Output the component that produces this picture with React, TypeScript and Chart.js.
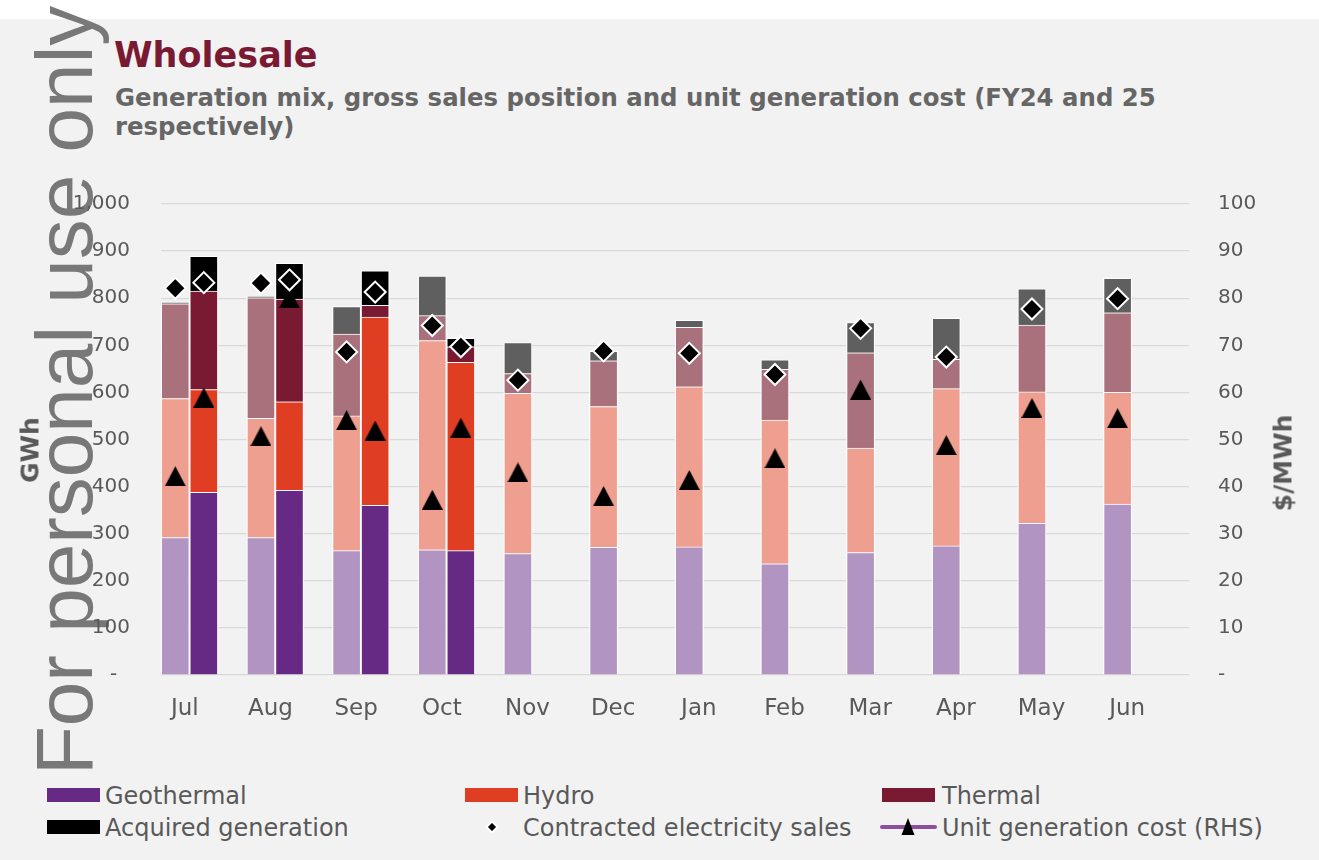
import React, { useEffect, useRef } from 'react';
import { Chart, registerables } from 'chart.js';

Chart.register(...registerables);

// ---------- data ----------
const months = ['Jul', 'Aug', 'Sep', 'Oct', 'Nov', 'Dec', 'Jan', 'Feb', 'Mar', 'Apr', 'May', 'Jun'];

// FY24 generation mix (GWh)
const geothermalFY24 = [292, 292, 264, 266, 258, 271, 272, 236, 260, 274, 322, 363];
const hydroFY24 = [295, 253, 286, 444, 340, 299, 340, 305, 222, 334, 279, 237];
const thermalFY24 = [201, 256, 174, 53, 42, 97, 126, 108, 202, 62, 142, 169];
const acquiredFY24 = [3, 3, 58, 84, 66, 20, 15, 20, 64, 87, 77, 73];

// FY25 generation mix (GWh)
const geothermalFY25 = [388, 392, 360, 264, null, null, null, null, null, null, null, null];
const hydroFY25 = [218, 188, 400, 400, null, null, null, null, null, null, null, null];
const thermalFY25 = [209, 218, 25, 33, null, null, null, null, null, null, null, null];
const acquiredFY25 = [74, 76, 73, 18, null, null, null, null, null, null, null, null];

// Contracted electricity sales (GWh)
const salesFY24 = [821, 832, 686, 742, 626, 688, 683, 638, 736, 675, 777, 799];
const salesFY25 = [833, 839, 813, 697, null, null, null, null, null, null, null, null];

// Unit generation cost ($/MWh, RHS)
const costFY24 = [42.2, 50.7, 54.1, 37.2, 43.0, 38.0, 41.4, 46.0, 60.6, 48.8, 56.7, 54.5];
const costFY25 = [58.9, 80.0, 51.9, 52.5, null, null, null, null, null, null, null, null];

const withCommas = (v: number) => String(Math.round(v)).replace(/\B(?=(\d{3})+(?!\d))/g, ',');
const leftTickFormat = (v: number) => (v === 0 ? '-  ' : withCommas(v));
const rightTickFormat = (v: number) => (v === 0 ? '-' : String(v));

// each month holds three slots: FY24, FY25 and an empty one
const STACK_SLOTS = 3;
const slotOffset = (slot: number) => -0.5 + (slot + 0.5) / STACK_SLOTS;
const FY24_SLOT = 0;
const FY25_SLOT = 1;

const points = (vals: (number | null)[], slot: number) =>
  vals
    .map((v, i) => (v == null ? null : { x: i + slotOffset(slot), y: v }))
    .filter((p) => p !== null) as { x: number; y: number }[];

const FONT = "'DejaVu Sans', sans-serif";
const TEXT = '#595959';

const colors = {
  geo25: '#662a84',
  geo24: '#b194c1',
  hydro25: '#e03e22',
  hydro24: '#ee9f90',
  thermal25: '#7a1a32',
  thermal24: '#a9717b',
  acq25: '#000000',
  acq24: '#5f5f5f',
};

export default function App() {
  const ref = useRef<HTMLCanvasElement>(null);

  useEffect(() => {
    const canvas = ref.current;
    if (!canvas) return;

    const tri = document.createElement('canvas');
    tri.width = 21;
    tri.height = 20;
    const tc = tri.getContext('2d')!;
    tc.fillStyle = '#000';
    tc.beginPath();
    tc.moveTo(10.5, 0);
    tc.lineTo(21, 20);
    tc.lineTo(0, 20);
    tc.closePath();
    tc.fill();

    const bar = (label: string, vals: (number | null)[], slot: number, color: string, stack: string) => ({
      type: 'bar' as const,
      label,
      data: points(vals, slot),
      xAxisID: 'xb',
      yAxisID: 'y',
      backgroundColor: color,
      borderColor: 'rgba(255,255,255,0.9)',
      borderWidth: { top: 1, left: 1.3, right: 1.3, bottom: 0 },
      borderSkipped: 'start' as const,
      stack,
      grouped: false,
      categoryPercentage: 1,
      barPercentage: 1,
      order: 2,
    });

    const diamond = (label: string, vals: (number | null)[], slot: number, stack: string) => ({
      type: 'line' as const,
      label,
      data: points(vals, slot),
      xAxisID: 'xb',
      yAxisID: 'y',
      stack,
      showLine: false,
      pointStyle: 'rectRot' as const,
      pointRadius: 10.5,
      pointBackgroundColor: '#000',
      pointBorderColor: '#fff',
      pointBorderWidth: 2,
      order: 0,
    });

    const triangle = (label: string, vals: (number | null)[], slot: number, stack: string) => ({
      type: 'line' as const,
      label,
      data: points(vals, slot),
      xAxisID: 'xb',
      yAxisID: 'y2',
      stack,
      showLine: false,
      borderColor: '#8e4f9b',
      pointStyle: tri,
      pointRadius: 10,
      order: 1,
    });

    const chart = new Chart(canvas, {
      type: 'bar',
      data: {
        labels: months,
        datasets: [
          diamond('Contracted electricity sales', salesFY24, FY24_SLOT, 's24'),
          diamond('Contracted electricity sales FY25', salesFY25, FY25_SLOT, 's25'),
          triangle('Unit generation cost (RHS)', costFY24, FY24_SLOT, 'c24'),
          triangle('Unit generation cost (RHS) FY25', costFY25, FY25_SLOT, 'c25'),
          bar('Geothermal FY24', geothermalFY24, FY24_SLOT, colors.geo24, 'FY24'),
          bar('Hydro FY24', hydroFY24, FY24_SLOT, colors.hydro24, 'FY24'),
          bar('Thermal FY24', thermalFY24, FY24_SLOT, colors.thermal24, 'FY24'),
          bar('Acquired generation FY24', acquiredFY24, FY24_SLOT, colors.acq24, 'FY24'),
          bar('Geothermal', geothermalFY25, FY25_SLOT, colors.geo25, 'FY25'),
          bar('Hydro', hydroFY25, FY25_SLOT, colors.hydro25, 'FY25'),
          bar('Thermal', thermalFY25, FY25_SLOT, colors.thermal25, 'FY25'),
          bar('Acquired generation', acquiredFY25, FY25_SLOT, colors.acq25, 'FY25'),
        ] as any,
      },
      options: {
        responsive: false,
        animation: false,
        events: [],
        layout: { padding: { top: 10, left: 0, right: 0, bottom: 0 } },
        plugins: {
          legend: { display: false },
          tooltip: { enabled: false },
          title: { display: false },
        },
        scales: {
          x: {
            type: 'category',
            offset: true,
            grid: { display: false, drawTicks: false },
            border: { display: false },
            ticks: {
              font: { family: FONT, size: 23 },
              color: TEXT,
              padding: 20,
              labelOffset: -19,
              autoSkip: false,
              maxRotation: 0,
            },
            afterFit: (s: any) => {
              s.height = 65;
            },
          },
          xb: {
            type: 'linear',
            display: false,
            stacked: true,
            min: -0.5,
            max: 11.5,
            offset: false,
            ticks: { stepSize: 1 },
          },
          y: {
            stacked: true,
            min: 0,
            max: 1000,
            grid: { color: '#d9d9d9', lineWidth: 1.3, drawTicks: false },
            border: { display: false },
            ticks: {
              stepSize: 100,
              font: { family: FONT, size: 20 },
              color: TEXT,
              padding: 31,
              callback: (v: any) => leftTickFormat(Number(v)),
            },
            afterFit: (s: any) => {
              s.width = 161;
            },
          },
          y2: {
            position: 'right',
            min: 0,
            max: 100,
            grid: { display: false, drawTicks: false },
            border: { display: false },
            ticks: {
              stepSize: 10,
              font: { family: FONT, size: 20 },
              color: TEXT,
              padding: 29,
              callback: (v: any) => rightTickFormat(Number(v)),
            },
            afterFit: (s: any) => {
              s.width = 130;
            },
          },
        } as any,
      },
    });

    return () => chart.destroy();
  }, []);

  const legendText = (left: number, capCenter: number, text: string) => (
    <div
      style={{
        position: 'absolute',
        left,
        top: capCenter - 11.5,
        fontFamily: FONT,
        fontSize: 24,
        lineHeight: '24px',
        color: TEXT,
        whiteSpace: 'nowrap',
      }}
    >
      {text}
    </div>
  );

  const swatch = (left: number, center: number, color: string) => (
    <div style={{ position: 'absolute', left, top: center - 7, width: 53, height: 14, background: color }} />
  );

  return (
    <div
      style={{
        position: 'absolute',
        left: 0,
        top: 0,
        width: 1319,
        height: 860,
        background: '#ffffff',
        overflow: 'hidden',
      }}
    >
      <div style={{ position: 'absolute', left: 0, top: 19, width: 1319, height: 841, background: '#f2f2f2' }} />

      {/* watermark */}
      <div
        style={{
          position: 'absolute',
          left: 25,
          top: 775,
          fontFamily: "'Liberation Sans', Arial, sans-serif",
          fontSize: 80,
          lineHeight: '80px',
          color: '#787878',
          whiteSpace: 'nowrap',
          transform: 'rotate(-90deg)',
          transformOrigin: '0 0',
        }}
      >
        For personal use only
      </div>

      {/* titles */}
      <div
        style={{
          position: 'absolute',
          left: 114,
          top: 37.5,
          fontFamily: FONT,
          fontWeight: 'bold',
          fontSize: 35,
          lineHeight: '35px',
          color: '#7a1a32',
          whiteSpace: 'nowrap',
        }}
      >
        Wholesale
      </div>
      <div
        style={{
          position: 'absolute',
          left: 115,
          top: 83,
          fontFamily: FONT,
          fontWeight: 'bold',
          fontSize: 24.4,
          lineHeight: '29px',
          color: '#666666',
          whiteSpace: 'nowrap',
        }}
      >
        Generation mix, gross sales position and unit generation cost (FY24 and 25
        <br />
        respectively)
      </div>

      <canvas
        ref={ref}
        width={1319}
        height={579}
        style={{ position: 'absolute', left: 0, top: 161, width: 1319, height: 579 }}
      />

      {/* axis titles */}
      <div
        style={{
          position: 'absolute',
          left: 30,
          top: 450,
          fontFamily: FONT,
          fontWeight: 'bold',
          fontSize: 25,
          lineHeight: '25px',
          color: TEXT,
          whiteSpace: 'nowrap',
          transform: 'translate(-50%, -50%) rotate(-90deg)',
        }}
      >
        GWh
      </div>
      <div
        style={{
          position: 'absolute',
          left: 1283,
          top: 463,
          fontFamily: FONT,
          fontWeight: 'bold',
          fontSize: 25,
          lineHeight: '25px',
          color: TEXT,
          whiteSpace: 'nowrap',
          transform: 'translate(-50%, -50%) rotate(-90deg)',
        }}
      >
        $/MWh
      </div>

      {/* legend */}
      {swatch(47, 795, colors.geo25)}
      {legendText(105, 795, 'Geothermal')}
      {swatch(465, 795, colors.hydro25)}
      {legendText(523, 795, 'Hydro')}
      {swatch(882, 795, colors.thermal25)}
      {legendText(942, 795, 'Thermal')}
      {swatch(47, 827, colors.acq25)}
      {legendText(105, 827, 'Acquired generation')}
      {legendText(523, 827, 'Contracted electricity sales')}
      {legendText(942, 827, 'Unit generation cost (RHS)')}
      <svg width={1319} height={80} style={{ position: 'absolute', left: 0, top: 780 }}>
        <polygon points="492,41.5 497.5,47 492,52.5 486.5,47" fill="#000" stroke="#fff" strokeWidth={2} />
        <line x1={882} y1={47} x2={935} y2={47} stroke="#8e4f9b" strokeWidth={4} strokeLinecap="round" />
        <polygon points="908,38 914.5,55 901.5,55" fill="#000" />
      </svg>
    </div>
  );
}
